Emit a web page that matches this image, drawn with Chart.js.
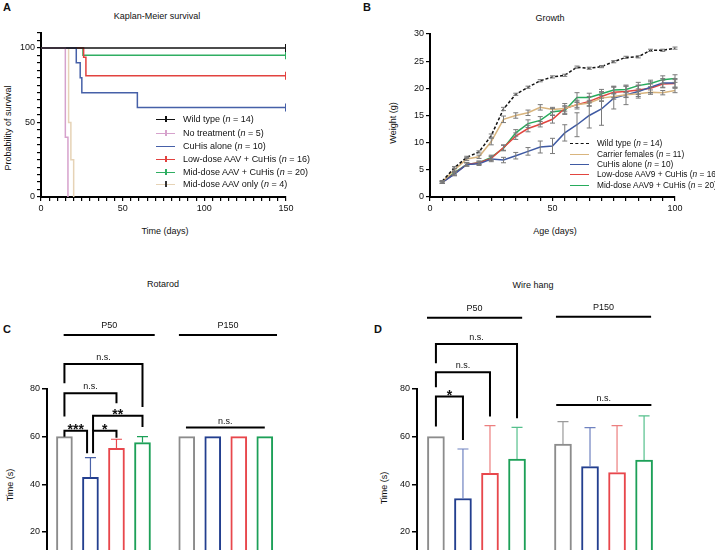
<!DOCTYPE html>
<html lang="en">
<head>
<meta charset="UTF-8">
<title>Survival, growth and motor tests</title>
<script src="https://cdn.jsdelivr.net/npm/chart.js"></script>
<style>
  body { margin:0; width:715px; height:550px; overflow:hidden; background:#fff; position:relative;
         font-family:'Liberation Sans', Arial, sans-serif; color:#111; }
  canvas { position:absolute; z-index:2; }
  .txt { position:absolute; font-size:9px; white-space:nowrap; transform:translate(-50%,-50%); }
  .panel { position:absolute; font-weight:bold; font-size:11px; }
  .ytitle { position:absolute; font-size:9px; white-space:nowrap; transform:translate(-50%,-50%) rotate(-90deg); }
  .leg { position:absolute; font-size:9px; white-space:nowrap; line-height:10px; z-index:3; }
  .legB { font-size:8.3px; }
  .sw { position:absolute; width:19px; height:0; z-index:3; }
  .sw b { position:absolute; left:9px; top:-4px; width:1.5px; height:6px; }
</style>
</head>
<body>
<canvas id="rotarod" width="360" height="330" style="left:0;top:270px"></canvas>
<canvas id="wirehang" width="355" height="330" style="left:360px;top:270px"></canvas>
<canvas id="survival" width="300" height="217" style="left:0;top:0"></canvas>
<canvas id="growth" width="355" height="217" style="left:360px;top:0"></canvas>

<div class="panel" style="left:3px;top:1px">A</div>
<div class="panel" style="left:363px;top:1px">B</div>
<div class="panel" style="left:3px;top:323px">C</div>
<div class="panel" style="left:374px;top:323px">D</div>
<div class="txt" style="left:157px;top:16px">Kaplan-Meier survival</div>
<div class="txt" style="left:550px;top:18px">Growth</div>
<div class="txt" style="left:165px;top:231px">Time (days)</div>
<div class="txt" style="left:555px;top:231px">Age (days)</div>
<div class="ytitle" style="left:8px;top:128px">Probability of survival</div>
<div class="ytitle" style="left:393px;top:123px">Weight (g)</div>
<div class="txt" style="left:163px;top:284px">Rotarod</div>
<div class="txt" style="left:533px;top:285px">Wire hang</div>
<div class="ytitle" style="left:10px;top:485px">Time (s)</div>
<div class="ytitle" style="left:384px;top:488px">Time (s)</div>

<script>
// ---- A: Kaplan-Meier survival (step times in days, survival %) ----
const survivalNames = ['Wild type', 'No treatment', 'CuHis alone', 'Low-dose AAV + CuHis', 'Mid-dose AAV + CuHis', 'Mid-dose AAV only'];
const survivalN = [14, 5, 10, 16, 20, 4];
const survivalColors = ['#111111', '#d6a2cc', '#4660a8', '#e2423f', '#2fae62', '#e6d3b6'];
const wtDays = [0, 150],                       wtSurv = [100, 100];
const untreatedDays = [0, 14.9, 16.5],         untreatedSurv = [100, 40, 0];
const cuhisDays = [0, 21.6, 24, 25, 59, 150],  cuhisSurv = [100, 90, 80, 70, 60, 60];
const lowDays = [0, 26.1, 27.5, 150],          lowSurv = [100, 93.75, 81.25, 81.25];
const midDays = [0, 25.7, 150],                midSurv = [100, 95, 95];
const aavOnlyDays = [0, 16.9, 18.3, 20],       aavOnlySurv = [100, 50, 25, 0];

// ---- B: growth curves ----
const ageDays = [5, 10, 15, 20, 25, 30, 35, 40, 45, 50, 55, 60, 65, 70, 75, 80, 85, 90, 95, 100];
const growthNames = ['Wild type', 'Carrier females', 'CuHis alone', 'Low-dose AAV9 + CuHis', 'Mid-dose AAV9 + CuHis'];
const growthN = [14, 11, 10, 16, 20];
const growthColors = ['#111111', '#d9b57e', '#3f5aa3', '#e2453f', '#27ab5c'];
const wtWeight      = [2.9, 5.4, 7.3, 8.3, 11.3, 16.2, 18.9, 20.2, 21.4, 22.1, 22.4, 23.9, 23.7, 24.0, 24.9, 25.7, 25.8, 27.0, 27.0, 27.4];
const wtErr         = [0.1, 0.2, 0.2, 0.2, 0.3, 0.3, 0.2, 0.2, 0.2, 0.2, 0.2, 0.2, 0.2, 0.2, 0.2, 0.2, 0.2, 0.2, 0.2, 0.2];
const carrierWeight = [2.8, 5.0, 7.0, 7.4, 10.2, 14.3, 15.0, 15.5, 16.5, 16.1, 16.3, 17.0, 17.3, 18.2, 18.5, 18.8, 19.0, 19.3, 19.2, 19.6];
const carrierErr    = [0.2, 0.3, 0.3, 0.3, 0.6, 0.6, 0.5, 0.5, 0.5, 0.4, 0.5, 0.5, 0.5, 0.5, 0.5, 0.5, 0.5, 0.4, 0.4, 0.4];
const cuhisWeight   = [2.7, 4.2, 6.0, 6.1, 7.0, 6.8, 7.6, 8.4, 9.2, 9.4, 11.8, 13.3, 15.0, 16.2, 18.2, 18.8, 19.4, 20.2, 21.0, 21.0];
const cuhisErr      = [0.2, 0.3, 0.3, 0.3, 0.5, 0.5, 0.6, 0.7, 1.1, 1.4, 1.5, 2.2, 2.3, 3.0, 2.0, 1.8, 1.2, 1.0, 0.8, 0.8];
const lowWeight     = [2.7, 4.3, 6.0, 6.3, 7.1, 9.1, 11.2, 12.6, 13.4, 14.3, 16.3, 17.0, 17.6, 18.5, 19.3, 19.4, 19.7, 20.0, 20.8, 20.9];
const lowErr        = [0.2, 0.3, 0.3, 0.3, 0.4, 0.5, 0.6, 0.6, 0.5, 0.7, 0.9, 0.8, 0.9, 0.9, 1.0, 1.0, 0.8, 0.8, 0.7, 0.7];
const midWeight     = [2.7, 4.5, 6.0, 6.3, 7.3, 9.0, 11.8, 13.5, 14.1, 15.7, 15.9, 18.3, 18.3, 19.0, 19.7, 19.8, 20.5, 20.9, 21.6, 21.8];
const midErr        = [0.2, 0.3, 0.3, 0.3, 0.4, 0.5, 0.6, 0.7, 0.7, 0.6, 0.7, 0.9, 0.8, 0.8, 0.7, 0.6, 0.6, 0.6, 0.7, 0.7];

// ---- C / D: motor tests (seconds, mean and upper error) ----
const ageGroups = ['P50', 'P150'];
const treatments = ['Wild type', 'CuHis alone', 'Low-dose', 'Mid-dose'];
const barColors = ['#8c8c8c', '#233f8f', '#e8474c', '#1da058'];
const rotarodP50 = [60, 42.9, 55.1, 57.5];
const rotarodP50Err = [0, 8.3, 3.8, 2.5];
const rotarodP150 = [60, 60, 60, 60];
const rotarodP150Err = [0, 0, 0, 0];
const wireP50 = [60, 34, 44.6, 50.6];
const wireP50Err = [0, 20.8, 20, 13.3];
const wireP150 = [56.9, 47.4, 44.9, 50.2];
const wireP150Err = [9.4, 16.4, 19.7, 18.5];

const font = () => ({ family: "'Liberation Sans', Arial, sans-serif", size: 9 });

function axis(min, max, step, labelEvery, extra) {
  return Object.assign({
    type: 'linear', min: min, max: max,
    ticks: { stepSize: step, autoSkip: false, maxRotation: 0, color: '#111', font: font(), padding: 2,
             callback: v => (v % labelEvery === 0 ? v : '') },
    grid: { display: true, drawOnChartArea: false, drawTicks: true, tickLength: 4, color: '#000', lineWidth: 1.2 },
    border: { display: true, color: '#000', width: 2 }
  }, extra || {});
}

// error bars for the growth curves (symmetric, grey)
const lineErrorBars = {
  id: 'lineErrorBars',
  afterDatasetsDraw(chart) {
    const { ctx, scales: { x, y } } = chart;
    ctx.save();
    ctx.strokeStyle = '#7a7a7a';
    ctx.lineWidth = 1;
    chart.data.datasets.forEach(ds => {
      if (!ds.errors) return;
      ds.data.forEach((p, j) => {
        const e = ds.errors[j];
        const px = x.getPixelForValue(p.x);
        const top = y.getPixelForValue(p.y + e), bot = y.getPixelForValue(p.y - e);
        ctx.beginPath();
        ctx.moveTo(px, top); ctx.lineTo(px, bot);
        ctx.moveTo(px - 2.5, top); ctx.lineTo(px + 2.5, top);
        ctx.moveTo(px - 2.5, bot); ctx.lineTo(px + 2.5, bot);
        ctx.stroke();
      });
    });
    ctx.restore();
  }
};

// upward error bars on the bar charts
const barErrorBars = {
  id: 'barErrorBars',
  afterDatasetsDraw(chart) {
    const { ctx, scales: { y } } = chart;
    ctx.save();
    ctx.lineWidth = 1.2;
    chart.data.datasets.forEach((ds, i) => {
      const meta = chart.getDatasetMeta(i);
      ds.data.forEach((p, j) => {
        const e = ds.errors[j];
        if (!e) return;
        const bar = meta.data[j];
        const top = y.getPixelForValue(p.y + e);
        ctx.strokeStyle = ds.errColors[j];
        ctx.beginPath();
        ctx.moveTo(bar.x, bar.y); ctx.lineTo(bar.x, top);
        ctx.moveTo(bar.x - 5.5, top); ctx.lineTo(bar.x + 5.5, top);
        ctx.stroke();
      });
    });
    ctx.restore();
  }
};

// group headers and significance brackets
const sigBrackets = {
  id: 'sigBrackets',
  afterDraw(chart, args, opts) {
    const { ctx, scales: { x, y } } = chart;
    ctx.save();
    ctx.strokeStyle = '#000';
    ctx.fillStyle = '#111';
    ctx.lineWidth = 2;
    ctx.textAlign = 'center';
    (opts.headers || []).forEach(h => {
      const x1 = x.getPixelForValue(h.from), x2 = x.getPixelForValue(h.to), py = y.getPixelForValue(h.at);
      ctx.beginPath(); ctx.moveTo(x1, py); ctx.lineTo(x2, py); ctx.stroke();
      ctx.font = "9px 'Liberation Sans', Arial, sans-serif";
      ctx.textBaseline = 'middle';
      ctx.fillText(h.text, (x1 + x2) / 2, py - 9);
    });
    (opts.items || []).forEach(b => {
      const x1 = x.getPixelForValue(b.from), x2 = x.getPixelForValue(b.to), py = y.getPixelForValue(b.at);
      ctx.beginPath();
      if (b.l !== undefined) { ctx.moveTo(x1, y.getPixelForValue(b.l)); ctx.lineTo(x1, py); }
      else ctx.moveTo(x1, py);
      ctx.lineTo(x2, py);
      if (b.r !== undefined) ctx.lineTo(x2, y.getPixelForValue(b.r));
      ctx.stroke();
      const stars = b.text.indexOf('*') === 0;
      ctx.textBaseline = 'alphabetic';
      ctx.font = stars ? "bold 14px 'Liberation Sans', Arial, sans-serif" : "9px 'Liberation Sans', Arial, sans-serif";
      ctx.fillText(b.text, (x1 + x2) / 2, stars ? py + 3 : py - 4);
    });
    ctx.restore();
  }
};

// ---------- C / D (built first) ----------
function barChart(id, p50, p50Err, p150, p150Err, xMin, pad, barW, errColors, brackets) {
  const vals = [p50, p150], errs = [p50Err, p150Err];
  const points = [], errors = [], colors = [], errCols = [];
  ageGroups.forEach((g, gi) => treatments.forEach((t, ti) => {
    points.push({ x: gi * 4.7 + ti, y: vals[gi][ti] });
    errors.push(errs[gi][ti]);
    colors.push(barColors[ti]);
    errCols.push(errColors[ti]);
  }));
  return new Chart(document.getElementById(id), {
    type: 'bar',
    data: { datasets: [{ data: points, errors: errors, errColors: errCols,
                         backgroundColor: '#ffffff', borderColor: colors, borderWidth: 2,
                         barThickness: barW }] },
    options: {
      responsive: false, animation: false,
      layout: { padding: { left: 0, top: pad.top, right: pad.right, bottom: pad.bottom } },
      plugins: { legend: { display: false }, tooltip: { enabled: false }, sigBrackets: brackets },
      scales: {
        x: { type: 'linear', min: xMin, max: 8.4, offset: false, display: false },
        y: { type: 'linear', min: 0, max: 80,
             ticks: { stepSize: 20, color: '#111', font: font(), padding: 2 },
             grid: { display: true, drawOnChartArea: false, tickLength: 5, color: '#000', lineWidth: 1.5 },
             border: { display: true, color: '#000', width: 2 },
             afterFit: s => { s.width = pad.yw; } }
      }
    },
    plugins: [barErrorBars, sigBrackets]
  });
}

barChart('rotarod', rotarodP50, rotarodP50Err, rotarodP150, rotarodP150Err, -0.67,
  { top: 119, right: 77, bottom: 20.5, yw: 47 }, 16,
  ['#8c8c8c', '#4a62a8', '#e8474c', '#1da058'],
  {
    headers: [{ from: -0.03, to: 3.47, at: 102.7, text: 'P50' }, { from: 4.4, to: 8.17, at: 102.7, text: 'P150' }],
    items: [
      { from: 0, to: 3, at: 90.5, l: 82.4, r: 72.4, text: 'n.s.' },
      { from: 0, to: 2, at: 78.2, l: 68.4, r: 74, text: 'n.s.' },
      { from: 1.1, to: 3, at: 68.8, l: 62.5, r: 64, text: '**' },
      { from: 0, to: 0.87, at: 62.5, l: 60, r: 53, text: '***' },
      { from: 1.1, to: 2, at: 62.5, l: 53, r: 59.5, text: '*' },
      { from: 4.67, to: 7.7, at: 63.8, text: 'n.s.' }
    ]
  });

barChart('wirehang', wireP50, wireP50Err, wireP150, wireP150Err, -0.7,
  { top: 119, right: 52, bottom: 20.5, yw: 57 }, 17,
  ['#9a9a9a', '#6f82c0', '#ec7f7f', '#55c08c'],
  {
    headers: [{ from: -0.33, to: 3.19, at: 109.9, text: 'P50' }, { from: 4.44, to: 7.96, at: 110.3, text: 'P150' }],
    items: [
      { from: 0, to: 3, at: 98.9, l: 90.8, r: 67.7, text: 'n.s.' },
      { from: 0, to: 2, at: 87, l: 80.7, r: 68.4, text: 'n.s.' },
      { from: 0, to: 1, at: 76.8, l: 64.2, r: 58.6, text: '*' },
      { from: 4.45, to: 7.97, at: 73.3, text: 'n.s.' }
    ]
  });

// ---------- A ----------
const survDays = [wtDays, untreatedDays, cuhisDays, lowDays, midDays, aavOnlyDays];
const survVals = [wtSurv, untreatedSurv, cuhisSurv, lowSurv, midSurv, aavOnlySurv];
new Chart(document.getElementById('survival'), {
  type: 'line',
  data: {
    datasets: survivalNames.map((name, i) => ({
      label: name,
      data: survDays[i].map((d, j) => ({ x: d, y: survVals[i][j] })),
      stepped: true,
      borderColor: survivalColors[i],
      backgroundColor: survivalColors[i],
      borderWidth: 1.5,
      pointStyle: 'line',
      rotation: 90,
      pointBorderWidth: 2,
      pointRadius: c => (c.dataIndex === survDays[i].length - 1 && survVals[i][c.dataIndex] > 0 ? 4 : 0)
    }))
  },
  options: {
    responsive: false, animation: false,
    layout: { padding: { left: 0, top: 33, right: 14, bottom: 0 } },
    plugins: { legend: { display: false }, tooltip: { enabled: false } },
    scales: {
      x: axis(0, 150, 5, 50, { afterFit: s => { s.height = 20; } }),
      y: axis(0, 110, 5, 50, { afterFit: s => { s.width = 41; },
           ticks: { stepSize: 5, autoSkip: false, color: '#111', font: font(), padding: 2,
                    callback: v => (v % 50 === 0 && v <= 100 ? v : '') } })
    }
  }
});

// ---------- B ----------
const growthVals = [wtWeight, carrierWeight, cuhisWeight, lowWeight, midWeight];
const growthErrs = [wtErr, carrierErr, cuhisErr, lowErr, midErr];
new Chart(document.getElementById('growth'), {
  type: 'line',
  data: {
    datasets: growthNames.map((name, i) => ({
      label: name,
      data: ageDays.map((d, j) => ({ x: d, y: growthVals[i][j] })),
      errors: growthErrs[i],
      borderColor: growthColors[i],
      borderWidth: 1.5,
      borderDash: i === 0 ? [3, 2] : [],
      pointRadius: 0,
      tension: 0
    }))
  },
  options: {
    responsive: false, animation: false,
    layout: { padding: { left: 0, top: 34, right: 40, bottom: 0 } },
    plugins: { legend: { display: false }, tooltip: { enabled: false } },
    scales: {
      x: axis(0, 100, 5, 50, { afterFit: s => { s.height = 20; } }),
      y: axis(0, 30, 5, 5, { afterFit: s => { s.width = 70; } })
    }
  },
  plugins: [lineErrorBars]
});

// ---------- legends ----------
function legend(names, ns, colors, lineX, textX, rowsY, opts) {
  names.forEach((name, i) => {
    const sw = document.createElement('div');
    sw.className = 'sw';
    sw.style.left = lineX + 'px';
    sw.style.top = rowsY[i] + 'px';
    sw.style.borderTop = '1.5px ' + (opts.dashed && i === 0 ? 'dashed ' : 'solid ') + colors[i];
    if (opts.tick && opts.tick[i]) {
      const t = document.createElement('b');
      t.style.background = i === 5 ? '#333' : colors[i];
      sw.appendChild(t);
    }
    document.body.appendChild(sw);
    const lab = document.createElement('div');
    lab.className = 'leg' + (opts.cls ? ' ' + opts.cls : '');
    lab.style.left = textX + 'px';
    lab.style.top = (rowsY[i] - 5) + 'px';
    lab.append(name + ' (');
    const it = document.createElement('i');
    it.textContent = 'n';
    lab.appendChild(it);
    lab.append(' = ' + ns[i] + ')');
    document.body.appendChild(lab);
  });
}
legend(survivalNames, survivalN, survivalColors, 156, 183, [119, 133, 146, 159, 172, 184],
  { tick: [true, true, false, true, true, true] });
legend(growthNames, growthN, growthColors, 570, 597, [143, 154, 164, 174, 185], { dashed: true, cls: 'legB' });
</script>
</body>
</html>
